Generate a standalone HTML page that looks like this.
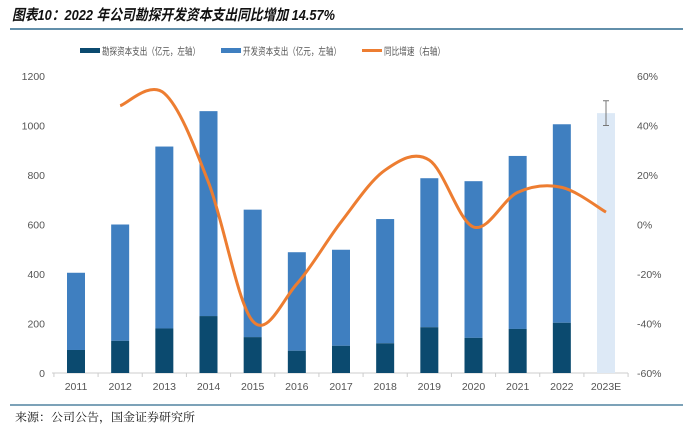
<!DOCTYPE html>
<html><head><meta charset="utf-8"><style>
body{margin:0;width:683px;height:430px;background:#fff;font-family:"Liberation Sans","Noto Sans CJK SC",sans-serif;overflow:hidden}
</style></head><body>
<svg width="683" height="430" style="position:absolute;left:0;top:0">
<text x="12" y="20" font-size="15" font-weight="bold" font-style="italic" fill="#111" textLength="323" lengthAdjust="spacingAndGlyphs" font-family="Liberation Sans,Noto Sans CJK SC,sans-serif">图表10：2022 年公司勘探开发资本支出同比增加 14.57%</text>
<line x1="10" y1="29" x2="683" y2="29" stroke="#2e6a8e" stroke-width="1.5"/>
<g id="legend" font-size="10" fill="#555">
<g><rect x="80" y="48" width="20" height="5" fill="#0b4a6f"/><text x="102" y="55" textLength="98" lengthAdjust="spacingAndGlyphs">勘探资本支出（亿元，左轴）</text></g>
<g><rect x="221" y="48" width="20" height="5" fill="#3f7fc0"/><text x="243" y="55" textLength="98" lengthAdjust="spacingAndGlyphs">开发资本支出（亿元，左轴）</text></g>
<g><rect x="362" y="49" width="20" height="3" fill="#ed7d31"/><text x="384" y="55" textLength="61" lengthAdjust="spacingAndGlyphs">同比增速（右轴）</text></g>
</g>
<g id="axes" font-size="10.5" fill="#555"></g>
<g id="bars"></g>
<path id="line" fill="none" stroke="#ed7d31" stroke-width="3"/>
<line x1="10" y1="405" x2="683" y2="405" stroke="#2e6a8e" stroke-width="1.2"/>
<text x="15" y="421" font-size="11.5" fill="#111" textLength="180" lengthAdjust="spacingAndGlyphs" font-family="Liberation Serif,Noto Serif CJK SC,serif">来源：公司公告，国金证券研究所</text>
</svg>
<script>
const categories=["2011","2012","2013","2014","2015","2016","2017","2018","2019","2020","2021","2022","2023E"];
const exploration=[93,130,180,230,145,90,110,120,185,142,178,203,null];
const totalCapex=[405,600,915,1058,660,488,498,622,787,775,877,1005,1050];
const growth=[null,48,53,17,-39,-24,1,22,26,-1,13,15,5];
const leftTicks=[0,200,400,600,800,1000,1200];
const rightTicks=[-60,-40,-20,0,20,40,60];
const NS="http://www.w3.org/2000/svg";
const x0=76,step=(606-76)/12,yB=373,yT=76;
const xS=i=>x0+i*step;
const yL=v=>yB-(v/1200)*(yB-yT);
const yR=v=>yB-((v+60)/120)*(yB-yT);
function mk(t,a,p){const e=document.createElementNS(NS,t);for(const k in a)e.setAttribute(k,a[k]);p.appendChild(e);return e;}
const ax=document.getElementById('axes'),bars=document.getElementById('bars');
leftTicks.forEach(v=>{const t=mk('text',{x:45,y:yL(v)+4,'text-anchor':'end'},ax);t.textContent=v;

});
rightTicks.forEach(v=>{const t=mk('text',{x:637,y:yR(v)+4},ax);t.textContent=v+'%';

});
const base=mk('line',{x1:52,y1:yB,x2:628,y2:yB,stroke:'#ccc'},ax);


for(let i=0;i<=13;i++){const tk=mk('line',{x1:x0-step/2+i*step,y1:yB,x2:x0-step/2+i*step,y2:yB+4,stroke:'#ccc'},ax);

}
categories.forEach((c,i)=>{const t=mk('text',{x:xS(i),y:390,'text-anchor':'middle'},ax);t.textContent=c;


const w=18,bx=xS(i)-w/2;
if(exploration[i]==null){
const r=mk('rect',{x:bx,y:yL(totalCapex[i]),width:w,height:yB-yL(totalCapex[i]),fill:'#dde9f6'},bars);


const eb=mk('path',{d:`M${xS(i)} ${yL(1100)}V${yL(1000)}M${xS(i)-3} ${yL(1100)}h6M${xS(i)-3} ${yL(1000)}h6`,stroke:'#777',fill:'none'},bars);


}else{
const r1=mk('rect',{x:bx,y:yL(totalCapex[i]),width:w,height:yL(exploration[i])-yL(totalCapex[i]),fill:'#3f7fc0'},bars);


const r2=mk('rect',{x:bx,y:yL(exploration[i]),width:w,height:yB-yL(exploration[i]),fill:'#0b4a6f'},bars);

}
});
const pts=[];growth.forEach((g,i)=>{if(g!=null)pts.push([xS(i),yR(g)]);});
let d=`M${pts[0][0]} ${pts[0][1]}`;
for(let i=0;i<pts.length-1;i++){const p0=pts[i-1]||pts[i],p1=pts[i],p2=pts[i+1],p3=pts[i+2]||p2;
d+=`C${p1[0]+(p2[0]-p0[0])/6} ${p1[1]+(p2[1]-p0[1])/6} ${p2[0]-(p3[0]-p1[0])/6} ${p2[1]-(p3[1]-p1[1])/6} ${p2[0]} ${p2[1]}`;}
document.getElementById('line').setAttribute('d',d);
</script>
</body></html>
